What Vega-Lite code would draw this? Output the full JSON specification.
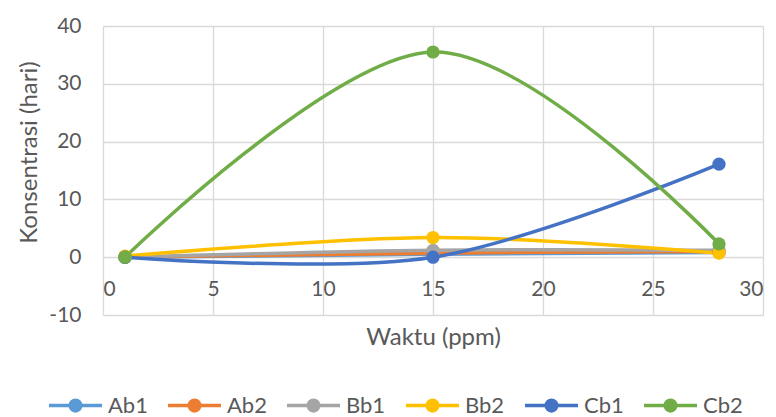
{
  "$schema": "https://vega.github.io/schema/vega-lite/v6.json",
  "autosize": {"type": "none"},
  "width": 660,
  "height": 289,
  "padding": {"left": 103, "top": 26, "right": 13, "bottom": 102},
  "background": "white",
  "config": {
    "view": {"stroke": null},
    "font": "Lato",
    "axis": {
      "labelFont": "Lato",
      "labelFontSize": 21,
      "labelColor": "#595959",
      "titleFont": "Lato",
      "titleFontSize": 24,
      "titleFontWeight": "normal",
      "titleColor": "#595959",
      "gridColor": "#d9d9d9",
      "gridWidth": 1.3,
      "ticks": false,
      "domain": false
    },
    "legend": {
      "labelFont": "Lato",
      "labelFontSize": 22,
      "labelColor": "#595959",
      "padding": 0
    }
  },
  "data": {
    "values": [
      {"seri": "Ab1", "waktu": 1, "konsentrasi": 0},
      {"seri": "Ab1", "waktu": 15, "konsentrasi": 0.5},
      {"seri": "Ab1", "waktu": 28, "konsentrasi": 0.8},
      {"seri": "Ab2", "waktu": 1, "konsentrasi": 0},
      {"seri": "Ab2", "waktu": 15, "konsentrasi": 0.7},
      {"seri": "Ab2", "waktu": 28, "konsentrasi": 1.0},
      {"seri": "Bb1", "waktu": 1, "konsentrasi": 0},
      {"seri": "Bb1", "waktu": 15, "konsentrasi": 1.2},
      {"seri": "Bb1", "waktu": 28, "konsentrasi": 1.2},
      {"seri": "Bb2", "waktu": 1, "konsentrasi": 0.2},
      {"seri": "Bb2", "waktu": 15, "konsentrasi": 3.4},
      {"seri": "Bb2", "waktu": 28, "konsentrasi": 0.7},
      {"seri": "Cb1", "waktu": 1, "konsentrasi": 0},
      {"seri": "Cb1", "waktu": 15, "konsentrasi": 0},
      {"seri": "Cb1", "waktu": 28, "konsentrasi": 16.1},
      {"seri": "Cb2", "waktu": 1, "konsentrasi": 0},
      {"seri": "Cb2", "waktu": 15, "konsentrasi": 35.5},
      {"seri": "Cb2", "waktu": 28, "konsentrasi": 2.3}
    ]
  },
  "encoding": {
    "x": {
      "field": "waktu",
      "type": "quantitative",
      "scale": {"domain": [0, 30], "nice": false, "zero": false},
      "axis": {
        "values": [0, 5, 10, 15, 20, 25, 30],
        "title": "Waktu (ppm)",
        "offset": -57.8,
        "labelPadding": 21,
        "titleY": 80,
        "titleBaseline": "middle",
        "grid": true
      }
    },
    "y": {
      "field": "konsentrasi",
      "type": "quantitative",
      "scale": {"domain": [-10, 40], "nice": false, "zero": false},
      "axis": {
        "values": [-10, 0, 10, 20, 30, 40],
        "labelExpr": "replace(datum.label, '\u2212', '-')",
        "title": "Konsentrasi (hari)",
        "labelPadding": 22,
        "titleAngle": 270,
        "titleAlign": "center",
        "titleBaseline": "middle",
        "titleX": -74,
        "titleY": 126,
        "grid": true
      }
    },
    "color": {
      "field": "seri",
      "type": "nominal",
      "scale": {
        "domain": ["Ab1", "Ab2", "Bb1", "Bb2", "Cb1", "Cb2"],
        "range": ["#5B9BD5", "#ED7D31", "#A5A5A5", "#FFC000", "#4472C4", "#70AD47"]
      },
      "legend": {
        "title": null,
        "orient": "none",
        "direction": "horizontal",
        "legendX": -56,
        "legendY": 351,
        "columnPadding": 13,
        "labelOffset": 4,
        "symbolType": "M-1,0H1M-0.2,0A0.2,0.2,0,1,1,0.2,0A0.2,0.2,0,1,1,-0.2,0Z",
        "symbolSize": 2809,
        "symbolStrokeWidth": 3.5,
        "encode": {
          "symbols": {
            "update": {
              "fill": {"scale": "color", "field": "value"},
              "stroke": {"scale": "color", "field": "value"},
              "opacity": {"value": 1}
            }
          }
        }
      }
    }
  },
  "layer": [
    {
      "mark": {"type": "line", "interpolate": "cardinal", "tension": 0, "strokeWidth": 3.5, "strokeCap": "round"}
    },
    {
      "mark": {"type": "point", "filled": true, "size": 175, "opacity": 1}
    }
  ]
}
